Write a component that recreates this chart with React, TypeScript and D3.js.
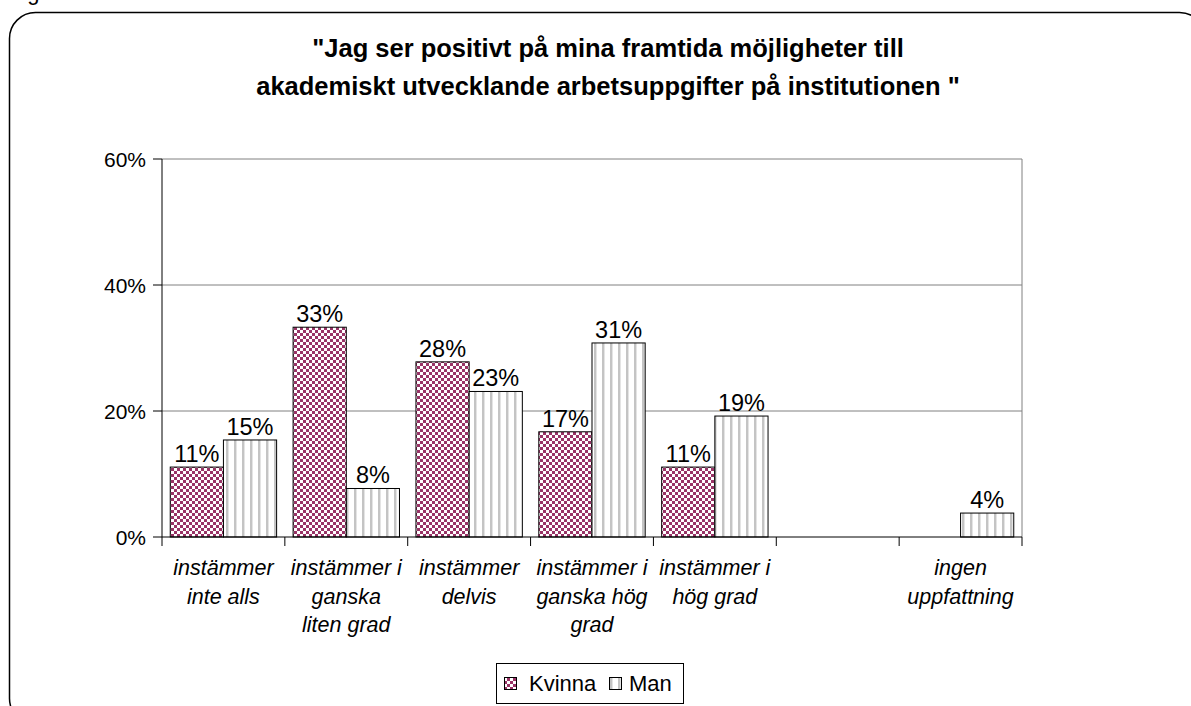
import React from "react";
import * as d3 from "d3";

const categories: string[][] = [
  ["instämmer", "inte alls"],
  ["instämmer i", "ganska", "liten grad"],
  ["instämmer", "delvis"],
  ["instämmer i", "ganska hög", "grad"],
  ["instämmer i", "hög grad"],
  [],
  ["ingen", "uppfattning"],
];
const kvinna: (number | null)[] = [11.1, 33.3, 27.8, 16.7, 11.1, null, null];
const man: (number | null)[] = [15.4, 7.7, 23.1, 30.8, 19.2, null, 3.8];
const yTicks = [0, 20, 40, 60];
const titleLines = [
  "\"Jag ser positivt på mina framtida möjligheter till",
  "akademiskt utvecklande arbetsuppgifter på institutionen \"",
];

const W = 1191;
const H = 706;
const left = 162;
const right = 1022;
const top = 159;
const bottom = 537;
const FONT = "Arial, 'Liberation Sans', sans-serif";

export default function App() {
  const x = d3
    .scaleBand<number>()
    .domain(categories.map((_, i) => i))
    .range([left, right])
    .paddingInner(0)
    .paddingOuter(0);
  const inner = d3
    .scaleBand<string>()
    .domain(["k", "m"])
    .range([0, x.bandwidth()])
    .paddingInner(0)
    .paddingOuter(0.155);
  const y = d3.scaleLinear().domain([0, 60]).range([bottom, top]);

  const series = [
    { key: "k", data: kvinna, fill: "url(#checker)" },
    { key: "m", data: man, fill: "url(#stripes)" },
  ];

  return (
    <svg
      width={W}
      height={H}
      style={{ position: "absolute", left: 0, top: 0 }}
      fontFamily={FONT}
    >
      <defs>
        <pattern id="checker" width={6} height={6} patternUnits="userSpaceOnUse">
          <rect width={6} height={6} fill="#993366" />
          <rect x={0} y={0} width={3} height={3} fill="#ffffff" />
          <rect x={3} y={3} width={3} height={3} fill="#ffffff" />
        </pattern>
        <pattern id="stripes" width={8} height={8} patternUnits="userSpaceOnUse">
          <rect width={8} height={8} fill="#ffffff" />
          <rect x={2} y={0} width={2} height={8} fill="#c4c4c4" />
          <rect x={4} y={0} width={1} height={8} fill="#e4e4e4" />
        </pattern>
      </defs>
      <rect x={0} y={0} width={W} height={H} fill="#ffffff" />
      <text x={9} y={-0.5} fontSize={22} fill="#000">Figur</text>
      <rect
        x={9.5}
        y={12.5}
        width={1196}
        height={712}
        rx={26}
        ry={26}
        fill="none"
        stroke="#000"
        strokeWidth={1.5}
      />
      {titleLines.map((t, i) => (
        <text
          key={i}
          x={608}
          y={57 + i * 38}
          textAnchor="middle"
          fontSize={25.5}
          fontWeight="bold"
        >
          {t}
        </text>
      ))}
      {/* gridlines */}
      {yTicks.filter((t) => t > 0).map((t) => (
        <line key={t} x1={left} x2={right} y1={y(t)} y2={y(t)} stroke="#808080" strokeWidth={1} />
      ))}
      <line x1={right} x2={right} y1={top} y2={bottom} stroke="#808080" strokeWidth={1} />
      {/* bars */}
      {series.map((s) =>
        s.data.map((v, i) =>
          v == null ? null : (
            <g key={s.key + i}>
              <rect
                x={(x(i) as number) + (inner(s.key) as number)}
                y={y(v)}
                width={inner.bandwidth()}
                height={bottom - y(v)}
                fill={s.fill}
                stroke="#000"
                strokeWidth={1}
              />
              <text
                x={(x(i) as number) + (inner(s.key) as number) + inner.bandwidth() / 2}
                y={y(v) - 5}
                textAnchor="middle"
                fontSize={23.5}
              >
                {Math.round(v) + "%"}
              </text>
            </g>
          )
        )
      )}
      {/* axes */}
      <line x1={left} x2={left} y1={top} y2={bottom} stroke="#000" strokeWidth={1} />
      <line x1={left} x2={right} y1={bottom} y2={bottom} stroke="#000" strokeWidth={1} />
      {yTicks.map((t) => (
        <g key={t}>
          <line x1={left - 9} x2={left} y1={y(t)} y2={y(t)} stroke="#000" strokeWidth={1} />
          <text x={146} y={y(t) + 7.5} textAnchor="end" fontSize={21}>
            {t + "%"}
          </text>
        </g>
      ))}
      {categories.map((_, i) => (
        <line
          key={"t" + i}
          x1={x(i) as number}
          x2={x(i) as number}
          y1={bottom}
          y2={bottom + 9}
          stroke="#000"
        />
      ))}
      <line x1={right} x2={right} y1={bottom} y2={bottom + 9} stroke="#000" />
      {categories.map((lines, i) => (
        <text
          key={"c" + i}
          x={(x(i) as number) + x.bandwidth() / 2}
          textAnchor="middle"
          fontSize={21.5}
          fontStyle="italic"
        >
          {lines.map((l, j) => (
            <tspan key={j} x={(x(i) as number) + x.bandwidth() / 2} y={575 + j * 28.5}>
              {l}
            </tspan>
          ))}
        </text>
      ))}
      {/* legend */}
      <rect x={496.5} y={663.5} width={187} height={40} fill="#fff" stroke="#000" strokeWidth={1} />
      <rect x={504.5} y={677.5} width={12} height={12} fill="url(#checker)" stroke="#000" />
      <text x={529} y={691} fontSize={22}>Kvinna</text>
      <rect x={609.5} y={677.5} width={12} height={12} fill="url(#stripes)" stroke="#000" />
      <text x={629} y={691} fontSize={22}>Man</text>
    </svg>
  );
}
